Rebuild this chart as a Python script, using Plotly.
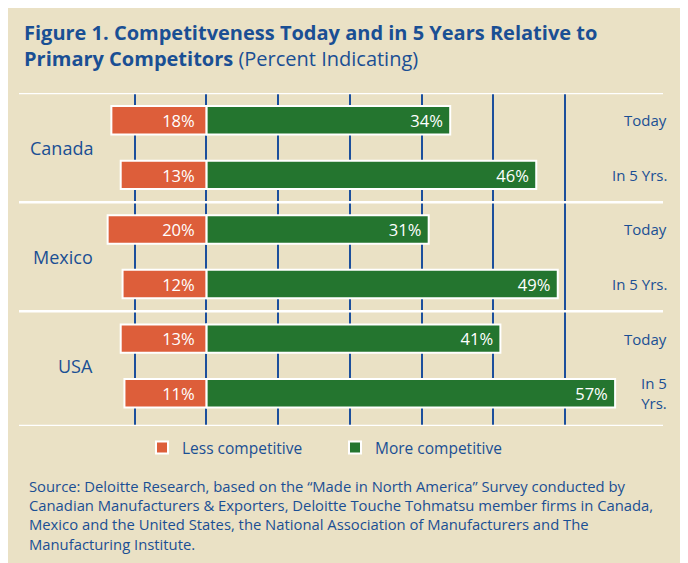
import plotly.graph_objects as go

# ---- data ----
countries = ["Canada", "Mexico", "USA"]
row_labels = ["Today", "In 5 Yrs.", "Today", "In 5 Yrs.", "Today", "In 5<br>Yrs."]
less_competitive = [18, 13, 20, 12, 13, 11]
more_competitive = [34, 46, 31, 49, 41, 57]
grid_ticks = [-10, 0, 10, 20, 30, 40, 50]
title_bold = ["Figure 1. Competitveness Today and in 5 Years Relative to", "Primary Competitors"]
title_plain = "(Percent Indicating)"
source_lines = [
    "Source: Deloitte Research, based on the \u201cMade in North America\u201d Survey conducted by",
    "Canadian Manufacturers & Exporters, Deloitte Touche Tohmatsu member firms in Canada,",
    "Mexico and the United States, the National Association of Manufacturers and The",
    "Manufacturing Institute.",
]

# ---- style ----
BG = "#EAE1C5"
ORANGE = "#DD5E3A"
GREEN = "#24752F"
BLUE = "#1A4F94"
GRID = "#1C4F9C"
FONT = "Open Sans"
LESS_ZERO = 32.9  # where the centre line sits on the "less" scale
NBSP = "\u00a0"

# figure geometry (page has an 8px body margin)
W, H = 680, 555
L, R, T, B = 11, 25, 85, 137
PW, PH = W - L - R, H - T - B


def px_x(px):
    return (px - L) / PW


def px_y(py):
    return (H - B - py) / PH


rows = list(range(len(less_competitive)))

fig = go.Figure()

fig.add_trace(go.Bar(
    name="Less competitive",
    y=rows, base=[-v for v in less_competitive],
    x=[v + LESS_ZERO for v in less_competitive],
    orientation="h", xaxis="x2", yaxis="y",
    width=0.52,
    marker=dict(color=ORANGE, line=dict(color="white", width=2)),
    text=[f"{v}%" for v in less_competitive],
    texttemplate="%{text}" + NBSP * 2,
    textposition="inside", insidetextanchor="end",
    textfont=dict(color="white", size=18.5, family=FONT),
    hoverinfo="skip",
))

fig.add_trace(go.Bar(
    name="More competitive",
    y=rows, x=more_competitive,
    orientation="h", xaxis="x", yaxis="y",
    width=0.52,
    marker=dict(color=GREEN, line=dict(color="white", width=2)),
    text=[f"{v}%" for v in more_competitive],
    texttemplate="%{text}" + NBSP,
    textposition="inside", insidetextanchor="end",
    textfont=dict(color="white", size=18.5, family=FONT),
    hoverinfo="skip",
))

shapes = []
for yv in [-0.5, 1.5, 3.5, 5.6]:
    shapes.append(dict(type="line", xref="paper", yref="y", x0=0, x1=1, y0=yv, y1=yv,
                       line=dict(color="white", width=2.5), layer="above"))

annotations = []
annotations.append(dict(
    text=f"<b>{title_bold[0]}<br>{title_bold[1]}</b> {title_plain}",
    xref="paper", yref="paper", x=px_x(14), y=px_y(9),
    xanchor="left", yanchor="top", align="left", showarrow=False,
    font=dict(family=FONT, size=20, color=BLUE)))
for i, c in enumerate(countries):
    annotations.append(dict(text=c, xref="paper", yref="y", x=px_x(87), y=2 * i + 0.5,
                            xanchor="right", yanchor="middle", showarrow=False,
                            font=dict(family=FONT, size=18, color=BLUE)))
for i, t in enumerate(row_labels):
    annotations.append(dict(text=t, xref="paper", yref="y", x=px_x(661), y=i,
                            xanchor="right", yanchor="middle", showarrow=False, align="center",
                            font=dict(family=FONT, size=15, color=BLUE)))
annotations.append(dict(text="<br>".join(source_lines), xref="paper", yref="paper",
                        x=px_x(19), y=px_y(466),
                        xanchor="left", yanchor="top", align="left", showarrow=False,
                        font=dict(family=FONT, size=14.8, color=BLUE)))

fig.update_layout(
    width=W, height=H,
    margin=dict(l=L, r=R, t=T, b=B, pad=0),
    paper_bgcolor=BG, plot_bgcolor=BG,
    barmode="overlay",
    showlegend=True,
    legend=dict(orientation="h", x=px_x(134), y=px_y(440),
                xanchor="left", yanchor="middle",
                entrywidth=148, entrywidthmode="pixels",
                font=dict(family=FONT, size=15.5, color=BLUE),
                bgcolor="rgba(0,0,0,0)", traceorder="normal"),
    xaxis=dict(range=[-26.14, 63.68], tickvals=grid_ticks, showticklabels=False,
               showgrid=True, gridcolor=GRID, gridwidth=2, zeroline=False,
               showline=False, ticks="", fixedrange=True),
    xaxis2=dict(range=[-67.5, 277.6], overlaying="x", visible=False, showgrid=False,
                zeroline=False, fixedrange=True),
    yaxis=dict(range=[5.6, -0.5], showticklabels=False, showgrid=False, zeroline=False,
               showline=False, ticks="", fixedrange=True),
    shapes=shapes,
    annotations=annotations,
)

fig.write_html("out.html")
